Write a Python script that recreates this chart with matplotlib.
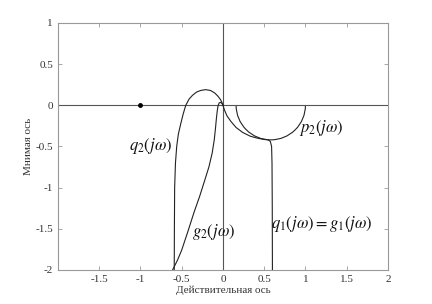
import numpy as np
import matplotlib
matplotlib.use("Agg")
import matplotlib.pyplot as plt
from matplotlib.patches import Arc

q2_re = [-0.59, -0.588, -0.585, -0.575, -0.56, -0.54, -0.51, -0.48, -0.45, -0.41,
         -0.37, -0.32, -0.27, -0.21, -0.15, -0.10, -0.06, -0.03, -0.01, 0.0]
q2_im = [-2.0, -1.5, -1.0, -0.7, -0.5, -0.35, -0.22, -0.1, 0.0, 0.075,
         0.12, 0.16, 0.18, 0.19, 0.18, 0.15, 0.11, 0.07, 0.03, 0.0]

g2_re = [-0.61, -0.55, -0.5, -0.43, -0.35, -0.28, -0.22, -0.17, -0.13, -0.105,
         -0.09, -0.08, -0.07, -0.06, -0.045, -0.025, -0.01, 0.0]
g2_im = [-2.0, -1.88, -1.76, -1.55, -1.3, -1.1, -0.91, -0.75, -0.58, -0.42,
         -0.28, -0.17, -0.08, -0.01, 0.03, 0.035, 0.02, 0.0]

q1_re = [0.0, 0.02, 0.05, 0.1, 0.16, 0.24, 0.33, 0.42, 0.5, 0.55, 0.575, 0.59,
         0.595, 0.598, 0.6]
q1_im = [0.0, -0.06, -0.13, -0.2, -0.27, -0.33, -0.375, -0.4, -0.415, -0.42,
         -0.44, -0.5, -0.7, -1.2, -2.0]

# p2: lower half circle
p2_center = (0.58, 0.0)
p2_radius = 0.42

point_re, point_im = -1.0, 0.0

labels = [r"$q_2(j\omega)$", r"$g_2(j\omega)$", r"$p_2(j\omega)$",
          r"$q_1(j\omega) = g_1(j\omega)$"]
label_pos = [(-0.88, -0.49), (-0.11, -1.54), (1.19, -0.28), (1.2, -1.44)]

plt.rcParams["font.family"] = "Liberation Serif"
plt.rcParams["mathtext.fontset"] = "stix"

fig = plt.figure(figsize=(4.32, 3.04), dpi=100)
ax = fig.add_axes([0.134, 0.112, 0.764, 0.8125])

line_col = "#222222"
ax.axhline(0, color="#555555", lw=0.8)
ax.axvline(0, color="#555555", lw=0.8)

ax.plot(q2_re, q2_im, color=line_col, lw=0.8)
ax.plot(g2_re, g2_im, color=line_col, lw=0.8)
ax.plot(q1_re, q1_im, color=line_col, lw=0.8)
ax.add_patch(Arc(p2_center, 2 * p2_radius, 2 * p2_radius, theta1=180, theta2=360,
                 color=line_col, lw=0.8))
ax.plot(point_re, point_im, "o", color="black", ms=2.5)

for txt, (x, y) in zip(labels, label_pos):
    ax.text(x, y, txt, fontsize=12, ha="center", va="center", color="#111111")

ax.set_xlim(-2, 2)
ax.set_ylim(-2, 1)
ax.set_xticks(np.arange(-2, 2.01, 0.5))
ax.set_xticklabels(["", "-1.5", "-1", "-0.5", "0", "0.5", "1", "1.5", "2"])
ax.set_yticks(np.arange(-2, 1.01, 0.5))
ax.set_yticklabels(["-2", "-1.5", "-1", "-0.5", "0", "0.5", "1"])
ax.tick_params(direction="in", length=3, width=0.6, colors="#999999",
               labelcolor="#333333", labelsize=8, top=True, right=True)
for s in ax.spines.values():
    s.set_color("#999999")
    s.set_linewidth(0.8)

ax.set_xlabel("Действительная ось", fontsize=8, color="#333333", labelpad=1)
ax.set_ylabel("Мнимая ось", fontsize=8, color="#333333", labelpad=2)

fig.savefig("out.png", dpi=100)
